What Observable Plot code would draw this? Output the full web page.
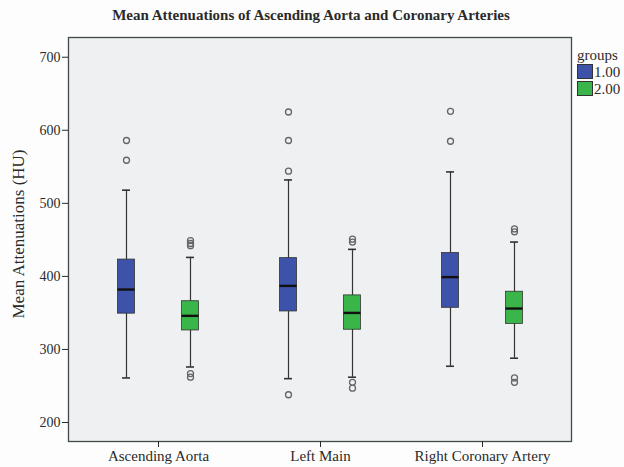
<!DOCTYPE html>
<html>
<head>
<meta charset="utf-8">
<script src="https://cdn.jsdelivr.net/npm/d3@7"></script>
<script src="https://cdn.jsdelivr.net/npm/@observablehq/plot@0.6"></script>
<style>
  body { margin: 0; background: #fdfdfd; }
  #wrap { position: relative; width: 624px; height: 467px; font-family: "Liberation Serif", "DejaVu Serif", serif; color: #2a2a2a; }
  #title { position: absolute; left: 0; width: 622px; top: 7px; text-align: center; font-weight: bold; font-size: 15px; }
  #ylab { position: absolute; left: 19px; top: 234px; transform: translate(-50%, -50%) rotate(-90deg); white-space: nowrap; font-size: 17px; }
  #legend { position: absolute; left: 577px; top: 47px; font-size: 15px; line-height: 17px; }
  #legend .row { margin-top: 0px; }
  .sw { display: inline-block; width: 14px; height: 13px; border: 1px solid #333; vertical-align: -2px; margin-right: 1px; }
  #chart { position: absolute; left: 0; top: 0; }
</style>
</head>
<body>
<div id="wrap">
  <div id="chart"></div>
  <div id="title">Mean Attenuations of Ascending Aorta and Coronary Arteries</div>
  <div id="ylab">Mean Attenuations (HU)</div>
  <div id="legend"></div>
</div>
<script>
const categories = ["Ascending Aorta", "Left Main", "Right Coronary Artery"];
const groups = ["1.00", "2.00"];
const groupColors = ["#3d53a9", "#3ab54a"];
const yTicks = [200, 300, 400, 500, 600, 700];

// group 1.00
const g1Low    = [261, 260, 277];
const g1Q1     = [349, 352, 357];
const g1Median = [382, 387, 399];
const g1Q3     = [423, 425, 432];
const g1High   = [518, 532, 543];
const g1Outliers = [[586, 559], [625, 586, 544, 238], [626, 585]];

// group 2.00
const g2Low    = [276, 262, 288];
const g2Q1     = [326, 327, 335];
const g2Median = [346, 350, 356];
const g2Q3     = [366, 374, 379];
const g2High   = [426, 437, 447];
const g2Outliers = [[449, 445, 442, 267, 262], [451, 447, 255, 247], [465, 461, 261, 255]];

const stats = [
  {low: g1Low, q1: g1Q1, med: g1Median, q3: g1Q3, high: g1High, out: g1Outliers},
  {low: g2Low, q1: g2Q1, med: g2Median, q3: g2Q3, high: g2High, out: g2Outliers}
];
const offsets = [-32, 32];

const boxInset = 72.5;
const capInset = 77;

const marks = [Plot.frame({fill: "#eef0f1", stroke: null})];
stats.forEach((s, gi) => {
  const rows = categories.map((c, i) => ({cat: c, low: s.low[i], q1: s.q1[i], med: s.med[i], q3: s.q3[i], high: s.high[i]}));
  const outs = categories.flatMap((c, i) => s.out[i].map(v => ({cat: c, v})));
  const dx = offsets[gi];
  marks.push(
    Plot.ruleX(rows, {x: "cat", y1: "low", y2: "high", stroke: "#333", strokeWidth: 1.2, dx}),
    Plot.tickY(rows, {x: "cat", y: "low", stroke: "#333", strokeWidth: 1.6, insetLeft: capInset, insetRight: capInset, dx}),
    Plot.tickY(rows, {x: "cat", y: "high", stroke: "#333", strokeWidth: 1.6, insetLeft: capInset, insetRight: capInset, dx}),
    Plot.barY(rows, {x: "cat", y1: "q1", y2: "q3", fill: groupColors[gi], stroke: "#333", strokeWidth: 0.8, insetLeft: boxInset, insetRight: boxInset, dx}),
    Plot.tickY(rows, {x: "cat", y: "med", stroke: "#111", strokeWidth: 2.4, insetLeft: boxInset, insetRight: boxInset, dx}),
    Plot.dot(outs, {x: "cat", y: "v", r: 3, stroke: "#666", strokeWidth: 1.3, fill: "none", dx})
  );
});
marks.push(Plot.frame({stroke: "#3f4a4a", strokeWidth: 1.3}));

const chart = Plot.plot({
  width: 624,
  height: 467,
  marginLeft: 68,
  marginRight: 53,
  marginTop: 37,
  marginBottom: 26,
  style: {fontFamily: "'Liberation Serif', serif", fontSize: "14px", color: "#2a2a2a", background: "transparent"},
  x: {type: "band", domain: categories, paddingInner: 0, paddingOuter: 0.05, label: null},
  y: {domain: [174, 727], label: null},
  marks: [
    ...marks,
    Plot.axisX({tickSize: 6, tickPadding: 3, fontSize: 15, label: null}),
    Plot.axisY({ticks: yTicks, tickSize: 6, tickPadding: 2, fontSize: 14, label: null, tickFormat: d => String(d)})
  ]
});
document.getElementById("chart").appendChild(chart);

const legend = document.getElementById("legend");
legend.innerHTML = "<div>groups</div>" + groups.map((g, i) =>
  `<div class="row"><span class="sw" style="background:${groupColors[i]}"></span>${g}</div>`).join("");
</script>
</body>
</html>
